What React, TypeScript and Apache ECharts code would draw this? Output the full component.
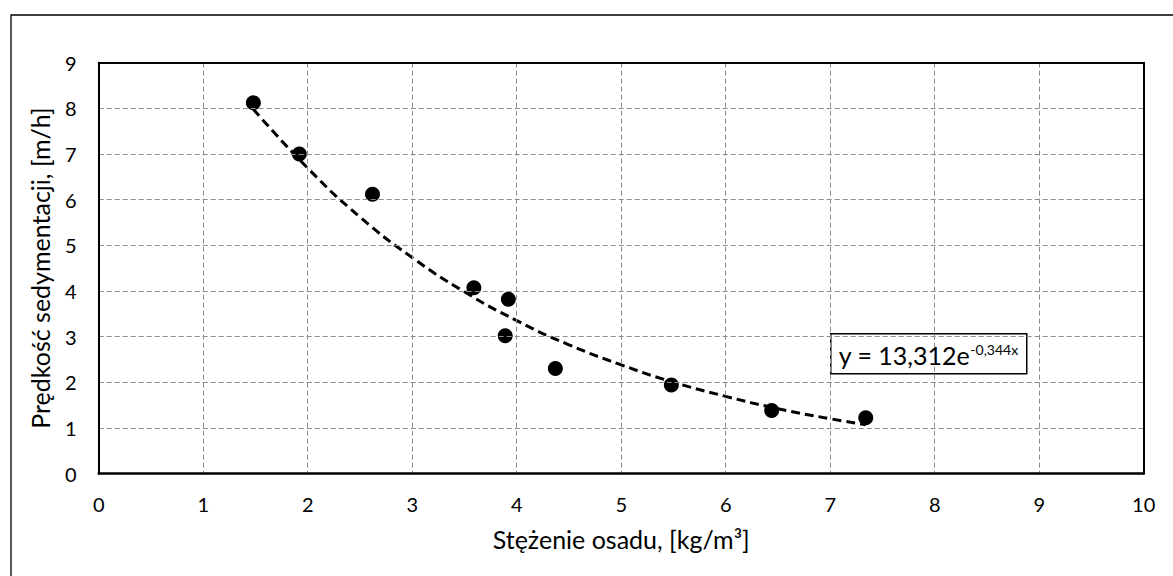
import React, { useEffect, useRef } from "react";
import * as echarts from "echarts";

// Measured data points (x: sludge concentration, y: settling velocity)
const concentration = [1.48, 1.92, 2.62, 3.59, 3.92, 3.89, 4.37, 5.48, 6.44, 7.34];
const velocity = [8.12, 7.0, 6.12, 4.07, 3.82, 3.02, 2.3, 1.94, 1.38, 1.22];

// Points
const trendX = [1.48, 2, 2.5, 3, 3.5, 4, 4.5, 5, 5.5, 6, 6.5, 7, 7.34];
const trendY = [7.98, 6.69, 5.62, 4.73, 3.98, 3.35, 2.82, 2.38, 2.0, 1.69, 1.42, 1.2, 1.07];

const xTicks = ["0", "1", "2", "3", "4", "5", "6", "7", "8", "9", "10"];
const yTicks = ["0", "1", "2", "3", "4", "5", "6", "7", "8", "9"];

const xTitle = "Stężenie osadu, [kg/m³]";
const yTitle = "Prędkość sedymentacji, [m/h]";
const eqMain = "y = 13,312e";
const eqSup = "-0,344x";

const FONT = "Lato";

export default function App() {
  const ref = useRef<HTMLDivElement>(null);
  useEffect(() => {
    if (!ref.current) return;
    const chart = echarts.init(ref.current, null, { renderer: "svg" });
    const gridLine = { show: true, lineStyle: { color: "#8c8c8c", width: 1, type: [5, 3] as any } };
    const frameAxis = {
      type: "value",
      axisLine: { show: true, onZero: false, lineStyle: { color: "#000", width: 2 } },
      axisTick: { show: false },
      axisLabel: { show: false },
      splitLine: { show: false },
      z: 5,
    };
    chart.setOption({
      animation: false,
      backgroundColor: "#fff",
      textStyle: { fontFamily: FONT, color: "#000" },
      grid: {
        left: 98.7,
        top: 62.7,
        right: 1173 - 1143.7,
        bottom: 576 - 473.5,
      },
      xAxis: [
        {
          type: "value",
          min: 0,
          max: 10,
          interval: 1,
          axisLine: { show: true, onZero: false, lineStyle: { color: "#000", width: 2.5 } },
          axisTick: { show: false },
          splitLine: gridLine,
          axisLabel: {
            fontFamily: FONT,
            fontSize: 20,
            color: "#000",
            margin: 20,
            formatter: (v: number) => xTicks[Math.round(v)] ?? "",
          },
          name: xTitle,
          nameLocation: "middle",
          nameGap: 53,
          nameTextStyle: { fontFamily: FONT, fontSize: 25, color: "#000" },
          z: 5,
        },
        { ...frameAxis, position: "top", min: 0, max: 10, interval: 1 },
      ],
      yAxis: [
        {
          type: "value",
          min: 0,
          max: 9,
          interval: 1,
          axisLine: { show: true, onZero: false, lineStyle: { color: "#000", width: 2 } },
          axisTick: { show: false },
          splitLine: gridLine,
          axisLabel: {
            fontFamily: FONT,
            fontSize: 20,
            color: "#000",
            margin: 22,
            formatter: (v: number) => yTicks[Math.round(v)] ?? "",
          },
          name: yTitle,
          nameLocation: "middle",
          nameGap: 46,
          nameTextStyle: { fontFamily: FONT, fontSize: 25, color: "#000" },
          z: 5,
        },
        { ...frameAxis, position: "right", min: 0, max: 9, interval: 1 },
      ],
      series: [
        {
          type: "scatter",
          data: concentration.map((x, i) => [x, velocity[i]]),
          symbol: "circle",
          symbolSize: 15,
          itemStyle: { color: "#000", opacity: 1 },
          z: 3,
        },
        {
          type: "line",
          data: trendX.map((x, i) => [x, trendY[i]]),
          smooth: true,
          showSymbol: false,
          symbol: "none",
          lineStyle: { color: "#000", width: 3, type: [9, 5] as any },
          z: 4,
        },
      ],
      graphic: [
        {
          type: "rect",
          left: 8.5,
          top: 12.5,
          shape: { x: 0, y: 0, width: 1200, height: 600 },
          style: { fill: "none", stroke: "#000", lineWidth: 1.3 },
          silent: true,
          z: -10,
        },
        {
          type: "group",
          left: 830,
          top: 333,
          z: 10,
          children: [
            {
              type: "rect",
              shape: { x: 0, y: 0, width: 196, height: 40 },
              style: { fill: "#fff", stroke: "#000", lineWidth: 1.5 },
            },
            {
              type: "text",
              x: 8,
              y: 21,
              style: {
                text: `{a|${eqMain}}{b|${eqSup}}`,
                verticalAlign: "middle",
                rich: {
                  a: { fontFamily: FONT, fontSize: 25, fill: "#000", verticalAlign: "bottom" },
                  b: { fontFamily: FONT, fontSize: 14, fill: "#000", verticalAlign: "top" },
                },
              },
            },
          ],
        },
      ],
    });
    return () => chart.dispose();
  }, []);
  return (
    <div
      ref={ref}
      style={{ position: "fixed", left: 0, top: 0, width: 1173, height: 576 }}
    />
  );
}
